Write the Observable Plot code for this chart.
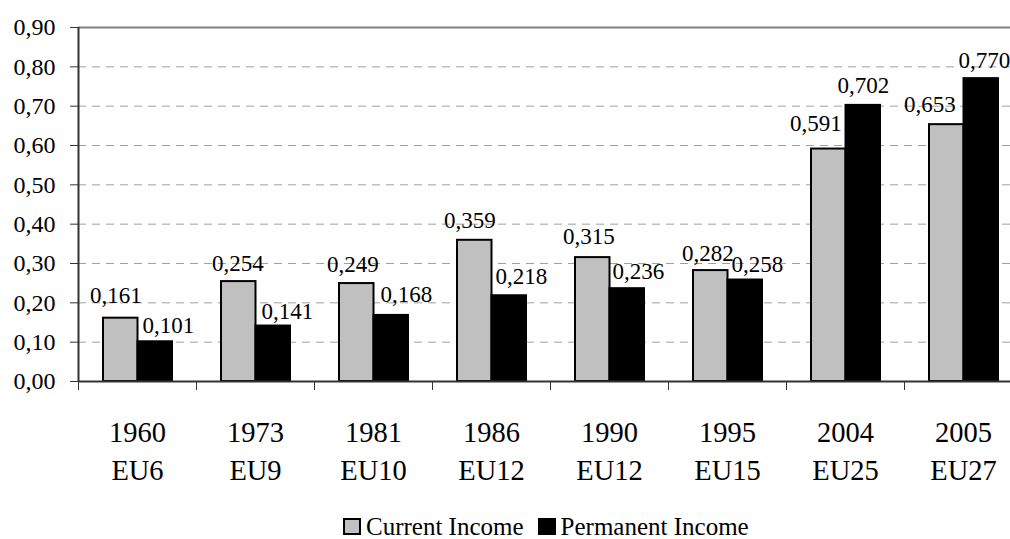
<!DOCTYPE html>
<html>
<head>
<meta charset="utf-8">
<script src="https://cdn.jsdelivr.net/npm/d3@7"></script>
<script src="https://cdn.jsdelivr.net/npm/@observablehq/plot@0.6"></script>
<style>
  html, body { margin: 0; padding: 0; background: #fff; overflow: hidden; }
  body, #chart svg, #chart svg text, #legend { font-family: "Liberation Serif", "Times New Roman", Times, "DejaVu Serif", serif !important; color: #000; }
  #chart svg { display: block; overflow: hidden; }
  #legend { font-size: 25px; line-height: 25px; height: 25px; padding-left: 343px; white-space: nowrap; }
  #legend .sw { display: inline-block; width: 18px; height: 17px; box-sizing: border-box; border: 2px solid #000; margin-right: 5px; }
</style>
</head>
<body>
<div id="chart"></div>
<div id="legend"></div>
<script>
// ---- data ----
const years = ["1960", "1973", "1981", "1986", "1990", "1995", "2004", "2005"];
const groups = ["EU6", "EU9", "EU10", "EU12", "EU12", "EU15", "EU25", "EU27"];
const currentIncome = [0.161, 0.254, 0.249, 0.359, 0.315, 0.282, 0.591, 0.653];
const permanentIncome = [0.101, 0.141, 0.168, 0.218, 0.236, 0.258, 0.702, 0.770];
const yTicks = [0, 0.1, 0.2, 0.3, 0.4, 0.5, 0.6, 0.7, 0.8, 0.9];
const seriesNames = ["Current Income", "Permanent Income"];
const seriesColors = ["#c0c0c0", "#000000"];

// ---- layout (label nudges as placed in the original) ----
const labelDxCurrent = [-5, -1, -4, -5, -4, -3, -13, -17];
const labelDxPermanent = [13, 14, 15, 12, 11, 12, 0, 3];
const labelGapCurrent = [15, 11, 12, 12, 14, 10, 18, 13];
const labelGapPermanent = [9, 7, 13, 12, 10, 8, 12, 11];

const FONT = "Liberation Serif, Times New Roman, serif";
const W = 1010, H = 514;
const xLeft = 78, bandW = 118;
const xRight = xLeft + bandW * years.length;
const yTopPx = 27, yBasePx = 381;

const rows = years.map((y, i) => ({year: y, group: groups[i], current: currentIncome[i], permanent: permanentIncome[i], i}));
const fmt3 = v => v.toFixed(3).replace(".", ",");
const fmt2 = v => v.toFixed(2).replace(".", ",");

const barW = 34.5, barPad = 25;
const grayCenter = barPad + barW / 2 - bandW / 2;
const blackCenter = barPad + barW * 1.5 - bandW / 2;

const labelMarks = [];
rows.forEach((d, i) => {
  labelMarks.push(Plot.text([d], {x: "year", y: "current", text: r => fmt3(r.current),
    dx: grayCenter + labelDxCurrent[i], dy: -labelGapCurrent[i], lineAnchor: "bottom",
    fontSize: 23, fontFamily: FONT, fill: "#000"}));
  labelMarks.push(Plot.text([d], {x: "year", y: "permanent", text: r => fmt3(r.permanent),
    dx: blackCenter + labelDxPermanent[i], dy: -labelGapPermanent[i], lineAnchor: "bottom",
    fontSize: 23, fontFamily: FONT, fill: "#000"}));
});

const chart = Plot.plot({
  width: W,
  height: H,
  marginLeft: xLeft,
  marginRight: 0,
  marginTop: yTopPx,
  marginBottom: H - yBasePx,
  style: {fontFamily: FONT, background: "#fff", color: "#000", overflow: "hidden"},
  x: {type: "band", domain: years, range: [xLeft, xRight], padding: 0},
  y: {domain: [0, 0.9], range: [yBasePx, yTopPx]},
  marks: [
    Plot.ruleY(yTicks.filter(t => t > 0 && t < 0.9), {stroke: "#a0a0a0", strokeWidth: 1, strokeDasharray: "8,6"}),
    Plot.ruleY([0.9], {stroke: "#808080", strokeWidth: 2}),
    Plot.barY(rows, {x: "year", y: "current", fill: seriesColors[0], stroke: "#000", strokeWidth: 2,
      insetLeft: barPad, insetRight: bandW - barPad - barW}),
    Plot.barY(rows, {x: "year", y: "permanent", fill: seriesColors[1], stroke: "#000", strokeWidth: 2,
      insetLeft: barPad + barW, insetRight: bandW - barPad - 2 * barW}),
    Plot.ruleY([0], {stroke: "#333", strokeWidth: 2}),
    Plot.ruleX([years[0]], {y1: 0, y2: 0.9, dx: -bandW / 2, stroke: "#333", strokeWidth: 2}),
    Plot.axisY({ticks: yTicks, tickFormat: fmt2, tickSize: 8, tickPadding: 15, fontSize: 24, fontFamily: FONT, stroke: "#333", fill: "#000", label: null}),
    Plot.axisX({ticks: years, tickSize: 9, tickFormat: () => "", dx: -bandW / 2, stroke: "#333", label: null}),
    Plot.axisX({ticks: years, tickSize: 0, tickPadding: 34, fontSize: 28.5, fontFamily: FONT, lineHeight: 38 / 28.5,
      tickFormat: d => d + "\n" + groups[years.indexOf(d)], fill: "#000", label: null}),
    ...labelMarks
  ]
});
document.getElementById("chart").append(chart);

const legend = document.getElementById("legend");
seriesNames.forEach((name, i) => {
  const sw = document.createElement("span");
  sw.className = "sw";
  sw.style.background = seriesColors[i];
  if (i > 0) sw.style.marginLeft = "14px";
  legend.append(sw);
  legend.append(document.createTextNode(name));
});
</script>
</body>
</html>
